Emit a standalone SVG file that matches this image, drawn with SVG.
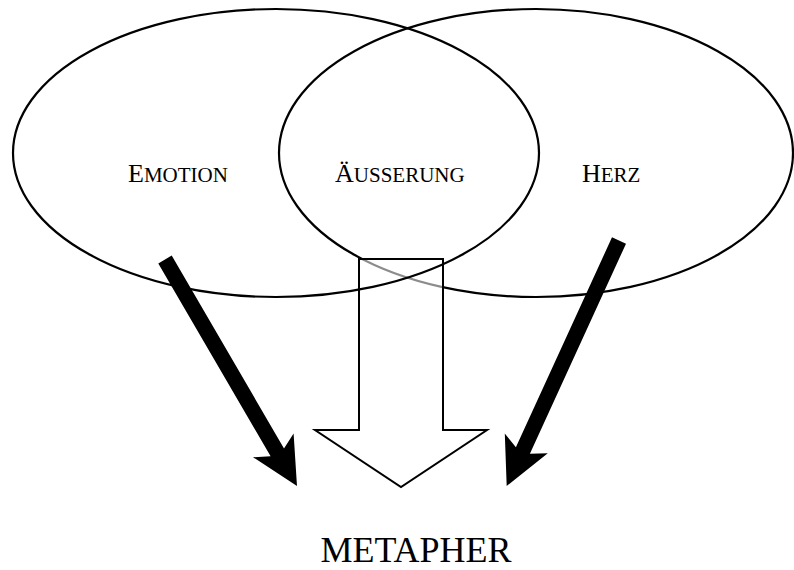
<svg xmlns="http://www.w3.org/2000/svg" width="794" height="570" viewBox="0 0 794 570">
  <style>
    .ell { fill: none; stroke: #000; stroke-width: 2.2; }
    .lbl { font-family: "Liberation Serif", "Times New Roman", serif; font-size: 26px; fill: #000; }
    .sc { font-size: 21px; }
    .big { font-family: "Liberation Serif", "Times New Roman", serif; font-size: 36px; fill: #000; text-anchor: middle; }
    .solid { fill: #000; stroke: none; }
    .hollow { fill: #fff; fill-opacity: 0.55; stroke: #000; stroke-width: 2; stroke-linejoin: miter; }
  </style>
  <rect x="0" y="0" width="794" height="570" fill="#fff"/>
  <g id="node-herz">
    <ellipse class="ell" cx="536" cy="153" rx="257" ry="144"/>
    <text class="lbl" x="582" y="182">H<tspan class="sc">ERZ</tspan></text>
  </g>
  <g id="connectors">
    <polygon class="hollow" points="359,259 443,259 443,430 487,430 401,487 315,430 359,430"/>
    <polygon class="solid" points="158.3,263.4 171.7,255.6 284,448.4 293.6,433.6 297,486 253,457.2 270.6,456.2"/>
    <polygon class="solid" points="612,237.3 626,243.7 529.9,453.7 547.8,453.2 506.7,486 504.8,433.4 515.9,447.3"/>
  </g>
  <g id="node-emotion">
    <ellipse class="ell" cx="276" cy="153" rx="263" ry="144"/>
    <text class="lbl" x="128" y="182">E<tspan class="sc">MOTION</tspan></text>
  </g>
  <g id="node-aeusserung">
    <text class="lbl" x="335" y="182">Ä<tspan class="sc">USSERUNG</tspan></text>
  </g>
  <g id="node-metapher">
    <text class="big" x="416" y="562">METAPHER</text>
  </g>
</svg>
